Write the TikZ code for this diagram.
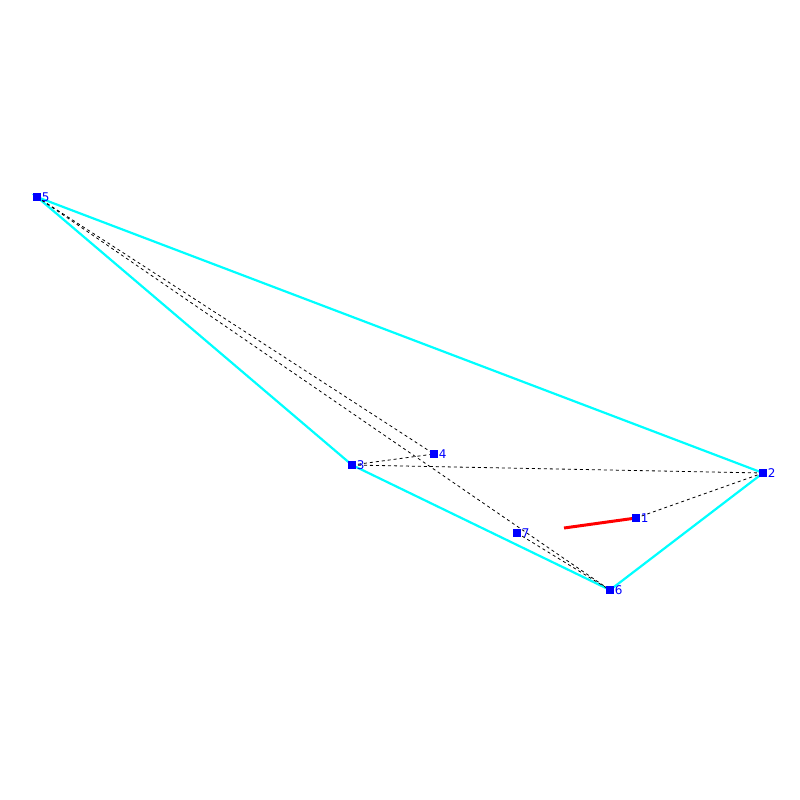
\documentclass[tikz,border=0pt]{standalone}
\usepackage{fontspec}
\setmainfont{DejaVu Sans}
\definecolor{hullc}{RGB}{0,255,255}
\definecolor{ptc}{RGB}{0,0,255}
\definecolor{redc}{RGB}{255,0,0}
\begin{document}
\begin{tikzpicture}[x=1pt,y=-1pt,
  pt/.style={fill=ptc,draw=none,minimum size=8pt,inner sep=0pt,shape=rectangle},
  lab/.style={text=ptc,font=\fontsize{12}{12}\selectfont,inner sep=0pt,anchor=west,xshift=0.5pt},
  hull/.style={draw=hullc,line width=2.2pt},
  dsh/.style={draw=black,dashed,line width=0.8pt},
  redl/.style={draw=redc,line width=3pt}]
\useasboundingbox (0,0) rectangle (800,800);
\coordinate (c1) at (636,518);
\coordinate (c2) at (763,473);
\coordinate (c3) at (352,465);
\coordinate (c4) at (434,454);
\coordinate (c5) at (37,197);
\coordinate (c6) at (610,590);
\coordinate (c7) at (517,533);
\coordinate (r) at (564,528);
\draw[hull] (c5) -- (c2) -- (c6) -- (c3) -- cycle;
\draw[dsh] (c5) -- (c4);
\draw[dsh] (c5) -- (c6);
\draw[dsh] (c3) -- (c4);
\draw[dsh] (c3) -- (c2);
\draw[dsh] (c1) -- (c2);
\draw[dsh] (c7) -- (c6);
\draw[redl] (c1) -- (r);
\foreach \i in {1,...,7} {
  \node[pt] (p\i) at (c\i) {};
  \node[lab] (l\i) at (p\i.east) {\i};
}
\end{tikzpicture}
\end{document}
